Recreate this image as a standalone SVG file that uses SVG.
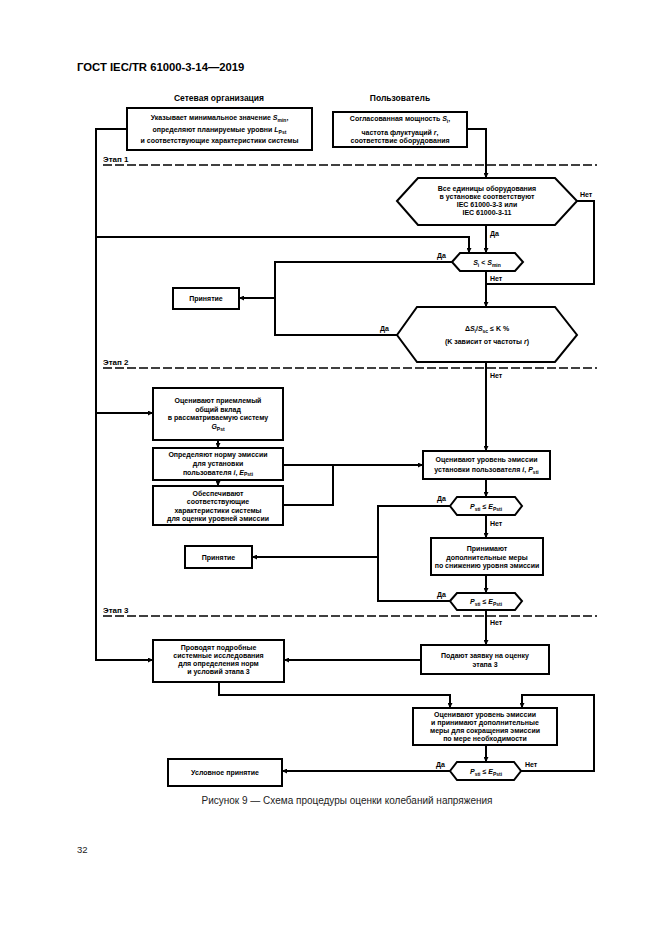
<svg xmlns="http://www.w3.org/2000/svg" width="661" height="935" viewBox="0 0 661 935">
<style>
.box{fill:#fff;stroke:#000;stroke-width:2}
.ln{fill:none;stroke:#000;stroke-width:2}
.ar{fill:none;stroke:#000;stroke-width:2;marker-end:url(#ah)}
.dash{fill:none;stroke:#000;stroke-width:1.6;stroke-dasharray:9 3}
.t{font-family:"Liberation Sans",Arial,sans-serif;font-weight:bold;font-size:7px;text-anchor:middle;fill:#000}
.l{font-family:"Liberation Sans",Arial,sans-serif;font-weight:bold;font-size:7px;fill:#000}
.h{font-family:"Liberation Sans",Arial,sans-serif;font-weight:bold;font-size:8.5px;text-anchor:middle;fill:#000}
.st{font-family:"Liberation Sans",Arial,sans-serif;font-weight:bold;font-size:8px;fill:#000}
.i{font-style:italic}
</style>
<defs>
<marker id="ah" viewBox="0 0 10 10" refX="10" refY="5" markerWidth="6" markerHeight="5" markerUnits="userSpaceOnUse" orient="auto">
<path d="M0,0 L10,5 L0,10 z" fill="#000"/>
</marker>
</defs>
<rect width="661" height="935" fill="#fff"/>
<text x="77" y="71" style="font-family:'Liberation Sans',Arial,sans-serif;font-weight:bold;font-size:11.3px">ГОСТ IEC/TR 61000-3-14—2019</text>
<text class="h" x="219" y="101">Сетевая организация</text>
<text class="h" x="400" y="101">Пользователь</text>

<g id="stages">
<line class="dash" x1="103" y1="165" x2="597" y2="165"/>
<text class="st" x="103" y="162">Этап 1</text>
<line class="dash" x1="103" y1="368" x2="597" y2="368"/>
<text class="st" x="103" y="365">Этап 2</text>
<line class="dash" x1="103" y1="616" x2="597" y2="616"/>
<text class="st" x="103" y="613">Этап 3</text>
</g>

<g id="connectors">
<polyline class="ar" points="127,129 96,129 96,660 153,660"/>
<polyline class="ar" points="96,413 153,413"/>
<polyline class="ar" points="96,237 469,237 469,253"/>
<polyline class="ar" points="467,129 486,129 486,178"/>
<polyline class="ln" points="577,201 594,201 594,284 486,284"/>
<polyline class="ar" points="486,225 486,253"/>
<polyline class="ar" points="486,271 486,307"/>
<polyline class="ln" points="452,262 275,262 275,335 397,335"/>
<polyline class="ar" points="275,298 239,298"/>
<polyline class="ar" points="486,362 486,451"/>
<polyline class="ar" points="218,440 218,448"/>
<polyline class="ar" points="218,480 218,486"/>
<polyline class="ar" points="283,465 423,465"/>
<polyline class="ln" points="283,505 333,505 333,465"/>
<polyline class="ar" points="486,479 486,497"/>
<polyline class="ar" points="486,515 486,538"/>
<polyline class="ar" points="486,575 486,593"/>
<polyline class="ln" points="450,506 378,506 378,601 450,601"/>
<polyline class="ar" points="378,557 252,557"/>
<polyline class="ar" points="486,610 486,645"/>
<polyline class="ar" points="421,660 284,660"/>
<polyline class="ar" points="219,682 219,695 450,695 450,708"/>
<polyline class="ar" points="521,771 594,771 594,695 522,695 522,708"/>
<polyline class="ar" points="486,745 486,762"/>
<polyline class="ar" points="450,771 282,771"/>
</g>

<g id="labels">
<text class="l" x="580" y="197">Нет</text>
<text class="l" x="490" y="236">Да</text>
<text class="l" x="437" y="258">Да</text>
<text class="l" x="490" y="281">Нет</text>
<text class="l" x="380" y="331">Да</text>
<text class="l" x="490" y="378">Нет</text>
<text class="l" x="437" y="501">Да</text>
<text class="l" x="490" y="526">Нет</text>
<text class="l" x="437" y="597">Да</text>
<text class="l" x="490" y="625">Нет</text>
<text class="l" x="436" y="767">Да</text>
<text class="l" x="525" y="767">Нет</text>
</g>

<g id="n-operator">
<rect class="box" x="127" y="108" width="185" height="42"/>
<text class="t" x="219.5" y="120">Указывает минимальное значение <tspan class="i">S</tspan><tspan font-size="5" dy="1.5">min</tspan><tspan dy="-1.5">,</tspan></text>
<text class="t" x="219.5" y="132">определяют планируемые уровни <tspan class="i">L</tspan><tspan font-size="5" dy="1.5">Pst</tspan></text>
<text class="t" x="219.5" y="143">и соответствующие характеристики системы</text>
</g>

<g id="n-user">
<rect class="box" x="333" y="112" width="134" height="35"/>
<text class="t" x="400" y="121">Согласованная мощность <tspan class="i">S</tspan><tspan font-size="5" dy="1.5">i</tspan><tspan dy="-1.5">,</tspan></text>
<text class="t" x="400" y="134.5">частота флуктуаций <tspan class="i">r</tspan>,</text>
<text class="t" x="400" y="142.5">соответствие оборудования</text>
</g>

<g id="n-equip">
<polygon class="box" points="397,201 418,178 555,178 577,201 555,225 418,225"/>
<text class="t" x="487" y="191">Все единицы оборудования</text>
<text class="t" x="487" y="199">в установке соответствуют</text>
<text class="t" x="487" y="207">IEC 61000-3-3 или</text>
<text class="t" x="487" y="215">IEC 61000-3-11</text>
</g>

<g id="n-smin">
<polygon class="box" points="452,262 460,253 515,253 523,262 515,271 460,271"/>
<text class="t" x="487" y="265"><tspan class="i">S</tspan><tspan font-size="5" dy="1.5">i</tspan><tspan dy="-1.5"> &lt; </tspan><tspan class="i">S</tspan><tspan font-size="5" dy="1.5">min</tspan></text>
</g>

<g id="n-accept1">
<rect class="box" x="173" y="288" width="66" height="21"/>
<text class="t" x="206" y="301">Принятие</text>
</g>

<g id="n-ratio">
<polygon class="box" points="397,335 417,307 555,307 577,335 555,362 417,362"/>
<text class="t" x="487" y="331">Δ<tspan class="i">S</tspan><tspan font-size="5" dy="1.5">i</tspan><tspan dy="-1.5">/</tspan><tspan class="i">S</tspan><tspan font-size="5" dy="1.5">sc</tspan><tspan dy="-1.5"> ≤ K %</tspan></text>
<text class="t" x="487" y="344">(K зависит от частоты <tspan class="i">r</tspan>)</text>
</g>

<g id="n-gpst">
<rect class="box" x="153" y="388" width="130" height="52"/>
<text class="t" x="218" y="403">Оценивают приемлемый</text>
<text class="t" x="218" y="411.5">общий вклад</text>
<text class="t" x="218" y="420">в рассматриваемую систему</text>
<text class="t" x="218" y="429"><tspan class="i">G</tspan><tspan font-size="5" dy="1.5">Pst</tspan></text>
</g>

<g id="n-epst">
<rect class="box" x="153" y="448" width="130" height="32"/>
<text class="t" x="218" y="457">Определяют норму эмиссии</text>
<text class="t" x="218" y="465.5">для установки</text>
<text class="t" x="218" y="474.5">пользователя <tspan class="i">i</tspan>, <tspan class="i">E</tspan><tspan font-size="5" dy="1.5">Psti</tspan></text>
</g>

<g id="n-provide">
<rect class="box" x="153" y="486" width="130" height="39"/>
<text class="t" x="218" y="495.5">Обеспечивают</text>
<text class="t" x="218" y="504">соответствующие</text>
<text class="t" x="218" y="512.5">характеристики системы</text>
<text class="t" x="218" y="521">для оценки уровней эмиссии</text>
</g>

<g id="n-assess">
<rect class="box" x="423" y="451" width="127" height="28"/>
<text class="t" x="486.5" y="462">Оценивают уровень эмиссии</text>
<text class="t" x="486.5" y="472">установки пользователя <tspan class="i">i</tspan>, <tspan class="i">P</tspan><tspan font-size="5" dy="1.5">sti</tspan></text>
</g>

<g id="n-check1">
<polygon class="box" points="450,506 457,497 515,497 522,506 515,515 457,515"/>
<text class="t" x="486" y="509"><tspan class="i">P</tspan><tspan font-size="5" dy="1.5">sti</tspan><tspan dy="-1.5"> ≤ </tspan><tspan class="i">E</tspan><tspan font-size="5" dy="1.5">Psti</tspan></text>
</g>

<g id="n-measures">
<rect class="box" x="431" y="538" width="112" height="37"/>
<text class="t" x="487" y="550.5">Принимают</text>
<text class="t" x="487" y="559.5">дополнительные меры</text>
<text class="t" x="487" y="568">по снижению уровня эмиссии</text>
</g>

<g id="n-check2">
<polygon class="box" points="450,601 457,593 515,593 522,601 515,610 457,610"/>
<text class="t" x="486" y="604"><tspan class="i">P</tspan><tspan font-size="5" dy="1.5">sti</tspan><tspan dy="-1.5"> ≤ </tspan><tspan class="i">E</tspan><tspan font-size="5" dy="1.5">Psti</tspan></text>
</g>

<g id="n-accept2">
<rect class="box" x="185" y="546" width="67" height="22"/>
<text class="t" x="218.5" y="559.5">Принятие</text>
</g>

<g id="n-apply">
<rect class="box" x="421" y="645" width="128" height="29"/>
<text class="t" x="485" y="657.5">Подают заявку на оценку</text>
<text class="t" x="485" y="666.5">этапа 3</text>
</g>

<g id="n-study">
<rect class="box" x="153" y="640" width="131" height="42"/>
<text class="t" x="218.5" y="650">Проводят подробные</text>
<text class="t" x="218.5" y="658">системные исследования</text>
<text class="t" x="218.5" y="666">для определения норм</text>
<text class="t" x="218.5" y="674">и условий этапа 3</text>
</g>

<g id="n-assess3">
<rect class="box" x="413" y="708" width="144" height="37"/>
<text class="t" x="485" y="717">Оценивают уровень эмиссии</text>
<text class="t" x="485" y="725">и принимают дополнительные</text>
<text class="t" x="485" y="733">меры для сокращения эмиссии</text>
<text class="t" x="485" y="741">по мере необходимости</text>
</g>

<g id="n-check3">
<polygon class="box" points="450,771 457,762 514,762 521,771 514,780 457,780"/>
<text class="t" x="486" y="774"><tspan class="i">P</tspan><tspan font-size="5" dy="1.5">sti</tspan><tspan dy="-1.5"> ≤ </tspan><tspan class="i">E</tspan><tspan font-size="5" dy="1.5">Psti</tspan></text>
</g>

<g id="n-conditional">
<rect class="box" x="168" y="759" width="114" height="27"/>
<text class="t" x="225" y="775">Условное принятие</text>
</g>

<text x="347" y="804" style="font-family:'Liberation Sans',Arial,sans-serif;font-size:10px;text-anchor:middle;fill:#222">Рисунок 9 — Схема процедуры оценки колебаний напряжения</text>
<text x="77" y="853" style="font-family:'Liberation Sans',Arial,sans-serif;font-size:9.5px;fill:#222">32</text>
</svg>
